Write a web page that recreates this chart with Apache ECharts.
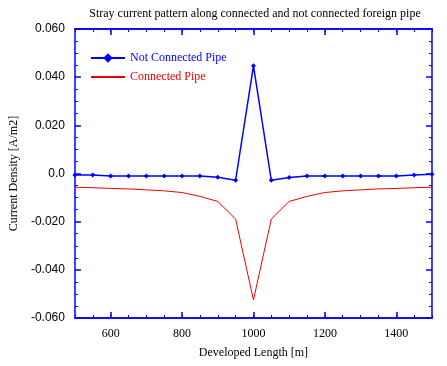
<!DOCTYPE html>
<html>
<head>
<meta charset="utf-8">
<script src="https://cdn.jsdelivr.net/npm/echarts@6/dist/echarts.min.js"></script>
<style>html,body{margin:0;padding:0;background:#fff;}#c{width:447px;height:366px;}</style>
</head>
<body>
<div id="c"></div>
<script>
const lengths = [500,550,600,650,700,750,800,850,900,950,1000,1050,1100,1150,1200,1250,1300,1350,1400,1450,1500];
const notConnected = [-0.0006,-0.0006,-0.0010,-0.0010,-0.0010,-0.0010,-0.0010,-0.0010,-0.0016,-0.0028,0.0447,-0.0028,-0.0017,-0.0010,-0.0010,-0.0010,-0.0010,-0.0010,-0.0010,-0.0006,-0.0003];
const connected = [-0.0057,-0.0059,-0.0062,-0.0064,-0.0068,-0.0072,-0.0079,-0.0095,-0.0116,-0.0189,-0.0525,-0.0189,-0.0116,-0.0095,-0.0079,-0.0072,-0.0068,-0.0064,-0.0062,-0.0059,-0.0057];
const xMajorTicks = [600,800,1000,1200,1400];
const titleText = 'Stray current pattern along connected and not connected foreign pipe';
const xName = 'Developed Length [m]';
const yName = 'Current Density [A/m2]';
const seriesNames = ['Not Connected Pipe','Connected Pipe'];

const AX = '#0000ff';
const serif = 'Liberation Serif';
const sans = 'Liberation Sans';
const axLine = {show:true, onZero:false, lineStyle:{color:AX, width:1.5}};

const chart = echarts.init(document.getElementById('c'), null, {renderer:'canvas'});
const grid = {left:69, top:29, right:15, bottom:48, containLabel:false};
function xAx(pos, major, showLabel){
  return {
    type:'value', position:pos, min:500, max:1500, interval:50,
    axisLine: axLine,
    axisTick: major ? {show:true, inside:true, length:6, lineStyle:{color:AX, width:1.5}, customValues:xMajorTicks}
                    : {show:true, inside:true, length:3, lineStyle:{color:AX, width:1}},
    axisLabel: showLabel ? {show:true, customValues:xMajorTicks, color:'#000', fontFamily:serif, fontSize:12, margin:10,
      formatter: v => String(v)} : {show:false},
    splitLine:{show:false},
    name: showLabel ? xName : '',
    nameLocation:'middle', nameGap:29,
    nameTextStyle:{color:'#000', fontFamily:serif, fontSize:12}
  };
}
function yAx(pos, showLabel){
  return {
    type:'value', position:pos, min:-0.06, max:0.06, interval:0.02,
    axisLine: axLine,
    axisTick:{show:true, inside:true, length:6, lineStyle:{color:AX, width:1.5}},
    minorTick:{show:true, splitNumber:4, length:3, lineStyle:{color:AX, width:1}},
    axisLabel: showLabel ? {show:true, color:'#000', fontFamily:sans, fontSize:12, margin:10,
      formatter: v => Math.abs(v) < 1e-9 ? '0.0' : v.toFixed(3)} : {show:false},
    splitLine:{show:false}, minorSplitLine:{show:false},
    name: showLabel ? yName : '',
    nameLocation:'middle', nameGap:48, nameRotate:90,
    nameTextStyle:{color:'#000', fontFamily:serif, fontSize:12}
  };
}

chart.setOption({
  animation:false,
  backgroundColor:'#fff',
  title:{text:titleText, left:250, textAlign:'center', top:3,
    textStyle:{fontFamily:serif, fontSize:12, fontWeight:'normal', color:'#000'}},
  legend:{
    show:true, orient:'vertical', left:85, top:47, itemGap:7,
    itemWidth:34, itemHeight:12,
    textStyle:{fontFamily:serif, fontSize:12},
    data:[
      {name:seriesNames[0], textStyle:{color:'#0000ff'}},
      {name:seriesNames[1], textStyle:{color:'#ee0000'}, itemStyle:{opacity:0, borderWidth:0}}
    ]
  },
  grid: grid,
  xAxis:[xAx('bottom', true, true), xAx('bottom', false, false), xAx('top', true, false), xAx('top', false, false)],
  yAxis:[yAx('left', true), yAx('right', false)],
  series:[
    {name:seriesNames[0], type:'line', xAxisIndex:0, yAxisIndex:0,
      data: lengths.map((x,i)=>[x, notConnected[i]]),
      symbol:'diamond', symbolSize:5, showAllSymbol:true,
      itemStyle:{color:'#0000ff'}, lineStyle:{color:'#0000ff', width:1.5}, z:3},
    {name:seriesNames[1], type:'line', xAxisIndex:0, yAxisIndex:0,
      data: lengths.map((x,i)=>[x, connected[i]]),
      symbol:'none', showSymbol:false,
      itemStyle:{color:'#ee0000'}, lineStyle:{color:'#ee0000', width:1}, z:2}
  ]
});
</script>
</body>
</html>
